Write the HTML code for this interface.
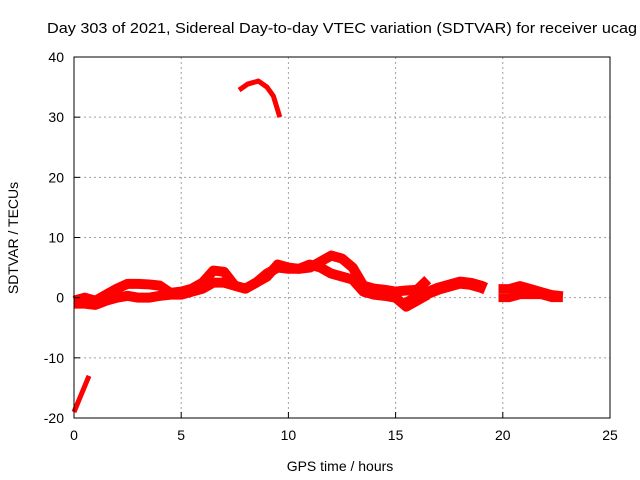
<!DOCTYPE html>
<html><head><meta charset="utf-8"><style>
body{margin:0;background:#fff}
svg{display:block;font-family:"Liberation Sans",sans-serif}
</style></head><body>
<svg id="chart" width="640" height="480">
<text x="47" y="33" font-size="15" textLength="590" lengthAdjust="spacingAndGlyphs">Day 303 of 2021, Sidereal Day-to-day VTEC variation (SDTVAR) for receiver ucag</text>
<text x="340" y="471" font-size="14" text-anchor="middle">GPS time / hours</text>
<text x="18" y="238" font-size="14" text-anchor="middle" transform="rotate(-90 18 238)">SDTVAR / TECUs</text>
<g id="grid"></g><g id="marks"></g><g id="axes"></g>
</svg>
<script>
const xTicks=[0,5,10,15,20,25];
const yTicks=[-20,-10,0,10,20,30,40];
const hoursA=[0,0.5,1,1.5,2,2.5,3,3.5,4,4.5,5,5.5,6,6.5,7,7.5,8,8.5,9,9.5,10,10.5,11,11.5,12,12.5,13,13.5,14,14.5,15,15.5,16,16.5];
const upperA=[-0.5,0,-0.5,0.5,1.5,2.3,2.3,2.2,2,0.8,1,1.5,2.5,4.5,4.3,2,1.5,2.5,3.5,5.5,5,4.8,5,6,7,6.5,5,2,1.5,1.3,1,1.2,1.3,3];
const lowerA=[-1,-1,-1.2,-0.5,0,0.3,0,0,0.3,0.5,0.5,1,1.5,2.5,2.5,2,1.5,2.5,4,5,4.8,4.8,5.5,5,4,3.5,3,1,0.5,0.3,0,-1.5,-0.5,0.5];
const hoursB=[15.5,16,16.5,17,17.5,18,18.5,19,19.2];
const valuesB=[-1,0,0.8,1.5,2,2.5,2.3,1.8,1.5];
const hoursC=[19.8,20.3,20.8,21.3,21.8,22.3,22.8];
const upperC=[1.5,1.5,2,1.5,1,0.5,0.3];
const lowerC=[0,0,0.5,0.5,0.5,0,0];
const hoursD=[0,0.35,0.7];
const valuesD=[-19,-16,-13];
const hoursE=[7.7,8.1,8.6,9,9.3,9.6];
const valuesE=[34.5,35.5,36,35,33.5,30];
const X0=74,X1=610,Y0=418,Y1=57;
const sx=v=>X0+(v-0)/25*(X1-X0);
const sy=v=>Y0-(v+20)/60*(Y0-Y1);
const NS="http://www.w3.org/2000/svg";
function mk(tag,attrs,parent){const e=document.createElementNS(NS,tag);for(const k in attrs)e.setAttribute(k,attrs[k]);document.getElementById(parent).appendChild(e);return e;}
xTicks.forEach(t=>{
 if(t>0&&t<25){const g=mk('line',{x1:sx(t),x2:sx(t),y1:Y1,y2:Y0,stroke:'#a0a0a0','stroke-dasharray':'2,3'},'grid');
 
 }
 const tk=mk('line',{x1:sx(t),x2:sx(t),y1:Y0,y2:Y0-6,stroke:'#000'},'axes');
 
 
 const lb=mk('text',{x:sx(t),y:Y0+22,'font-size':14,'text-anchor':'middle'},'axes');lb.textContent=t;
 
 
});
yTicks.forEach(t=>{
 if(t>-20&&t<40){const g=mk('line',{x1:X0,x2:X1,y1:sy(t),y2:sy(t),stroke:'#a0a0a0','stroke-dasharray':'2,3'},'grid');
 
 }
 const tk=mk('line',{x1:X0,x2:X0+6,y1:sy(t),y2:sy(t),stroke:'#000'},'axes');
 
 
 const lb=mk('text',{x:X0-10,y:sy(t)+5,'font-size':14,'text-anchor':'end'},'axes');lb.textContent=t;
 
 
});
const fr=mk('rect',{x:X0,y:Y1,width:X1-X0,height:Y0-Y1,fill:'none',stroke:'#000'},'axes');


function series(xs,ys,w,name){
 const p=mk('polyline',{points:xs.map((x,i)=>sx(x)+','+sy(ys[i])).join(' '),fill:'none',stroke:'#f00','stroke-width':w,'stroke-linejoin':'round'},'marks');
 
 
}
series(hoursA,upperA,10,'series-upper-band');
series(hoursA,lowerA,10,'series-lower-band');
series(hoursB,valuesB,12,'series-band-b');
series(hoursC,upperC,9,'series-upper-band-c');
series(hoursC,lowerC,9,'series-lower-band-c');
series(hoursD,valuesD,5,'series-outlier-low');
series(hoursE,valuesE,5,'series-outlier-high');
</script>
</body></html>
